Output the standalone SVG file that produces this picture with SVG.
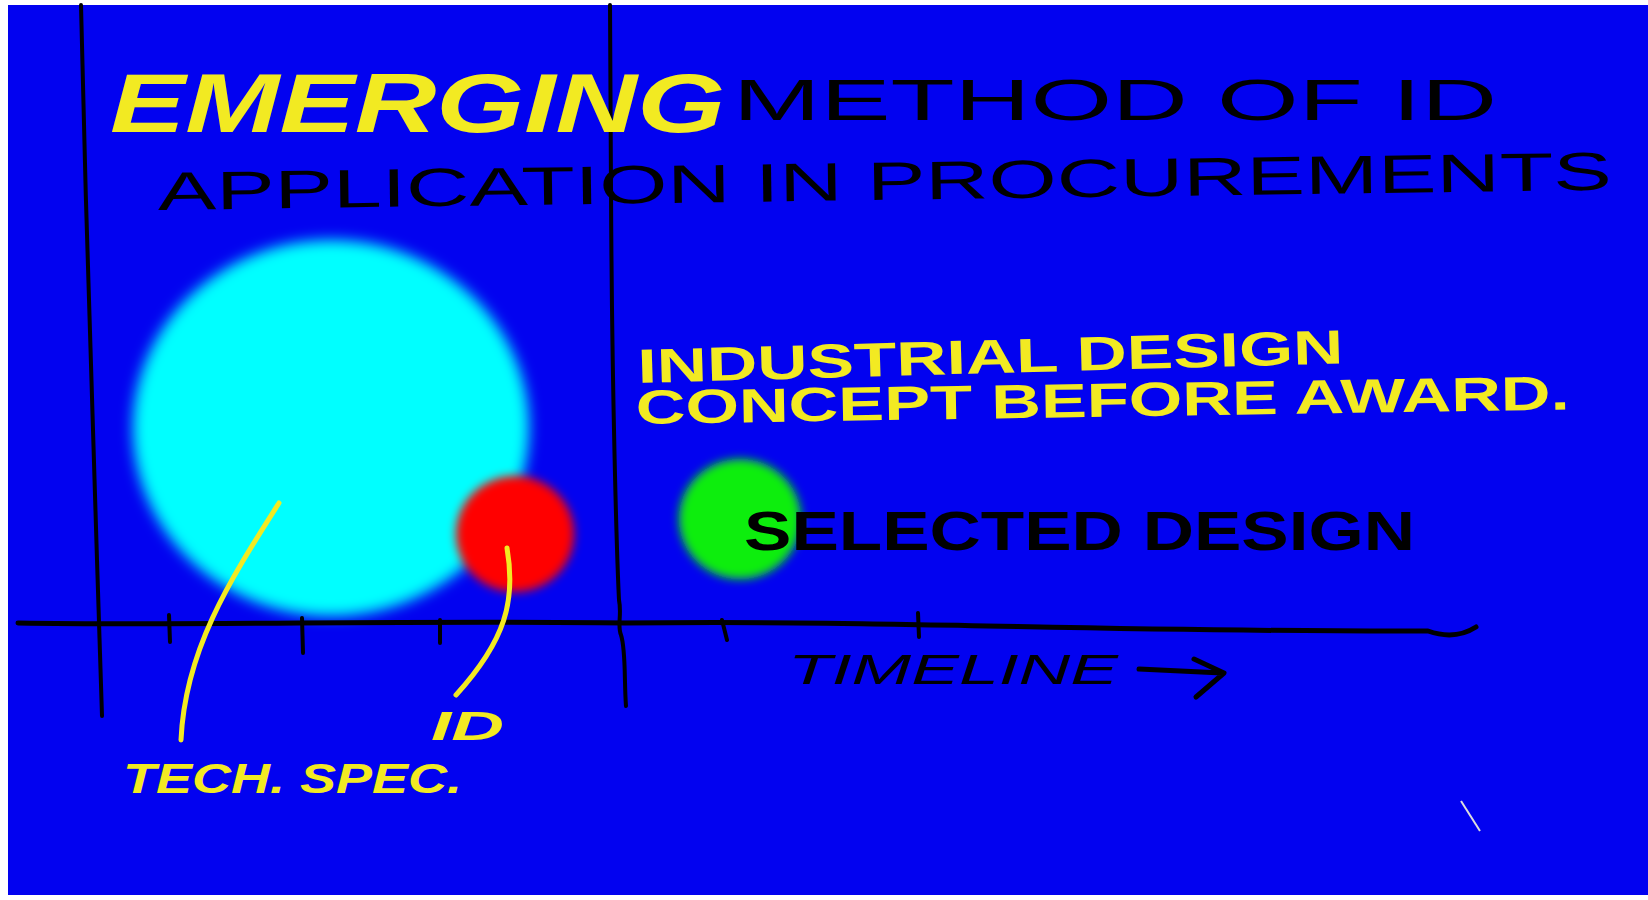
<svg xmlns="http://www.w3.org/2000/svg" width="1648" height="900" viewBox="0 0 1648 900">
<style>
.ink{fill:none;stroke:#000;stroke-width:4;stroke-linecap:round;stroke-linejoin:round}
.lead{fill:none;stroke:#f2ea22;stroke-width:5;stroke-linecap:round}
.y{fill:#f2ea22;font-family:"Liberation Sans",Arial,sans-serif;font-weight:bold}
.k{fill:#000;font-family:"Liberation Sans",Arial,sans-serif}
</style>
<defs>
<filter id="soft" x="-30%" y="-30%" width="160%" height="160%"><feGaussianBlur stdDeviation="7"/></filter>
<filter id="softS" x="-30%" y="-30%" width="160%" height="160%"><feGaussianBlur stdDeviation="5"/></filter>
</defs>
<rect x="0" y="0" width="1648" height="900" fill="#ffffff"/>
<rect x="8" y="5" width="1640" height="890" fill="#0202f0"/>

<g id="bubbles">
<g id="tech-spec-area"><ellipse cx="331" cy="428" rx="198" ry="188" fill="#00ffff" filter="url(#soft)"/></g>
<g id="id-area"><ellipse cx="515" cy="534" rx="59" ry="58" fill="#ff0000" filter="url(#softS)"/></g>
<g id="selected-design-area"><ellipse cx="740" cy="519" rx="61" ry="60" fill="#11ee11" filter="url(#softS)"/></g>
</g>

<g id="axes">
<path class="ink" d="M81,5 C85,190 92,400 97,560 L102,716"/>
<path class="ink" d="M610,5 L611,190 C612,400 617,560 619,600 C622,615 617,625 621,635 C626,650 624,680 626,706"/>
<path class="ink" style="stroke-width:5" d="M18,623 C200,626 400,620 625,623 C900,620 1100,632 1428,631 C1445,637 1462,636 1476,627"/>
<path class="ink" d="M169,615 L170,642 M302,618 L303,653 M440,620 L440,643 M722,620 L727,640 M918,613 L919,637"/>
<path class="ink" style="stroke-width:5" d="M1139,669 L1222,673 M1194,659 L1224,673 L1196,697"/>
<path fill="none" stroke="#dddddd" stroke-width="2" d="M1461,801 L1480,831"/>
</g>

<g id="connectors">
<path class="lead" d="M279,503 C230,580 185,650 181,740"/>
<path class="lead" d="M507,548 C516,600 506,640 456,695"/>
</g>

<g id="title">
<text class="y" x="110" y="132" font-size="84" font-style="italic" textLength="615" lengthAdjust="spacingAndGlyphs">EMERGING</text>
<text class="k" x="733" y="120" font-size="58" textLength="764" lengthAdjust="spacingAndGlyphs">METHOD OF ID</text>
<text class="k" x="158" y="210" font-size="54" textLength="1454" lengthAdjust="spacingAndGlyphs" transform="rotate(-0.8 158 210)">APPLICATION IN PROCUREMENTS</text>
</g>

<g id="label-industrial-design">
<text class="y" x="638" y="383" font-size="48" textLength="706" lengthAdjust="spacingAndGlyphs" transform="rotate(-1.6 638 383)">INDUSTRIAL DESIGN</text>
<text class="y" x="636" y="424" font-size="48" textLength="934" lengthAdjust="spacingAndGlyphs" transform="rotate(-0.9 636 424)">CONCEPT BEFORE AWARD.</text>
</g>

<g id="label-selected-design">
<text class="k" x="744" y="550" font-size="56" font-weight="bold" textLength="671" lengthAdjust="spacingAndGlyphs">SELECTED DESIGN</text>
</g>

<g id="label-timeline">
<text class="k" x="788" y="684" font-size="42" font-style="italic" textLength="330" lengthAdjust="spacingAndGlyphs">TIMELINE</text>
</g>

<g id="label-id">
<text class="y" x="431" y="740" font-size="40" font-style="italic" textLength="73" lengthAdjust="spacingAndGlyphs">ID</text>
</g>

<g id="label-tech-spec">
<text class="y" x="123" y="793" font-size="42" font-style="italic" textLength="339" lengthAdjust="spacingAndGlyphs">TECH. SPEC.</text>
</g>
</svg>
